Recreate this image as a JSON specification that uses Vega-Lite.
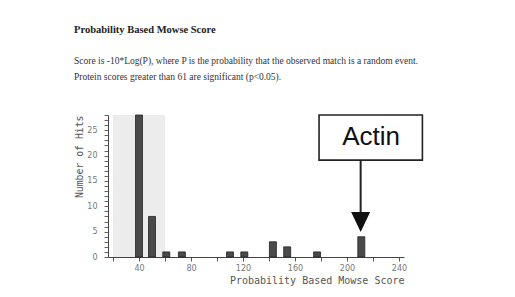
{
  "$schema": "https://vega.github.io/schema/vega-lite/v6.json",
  "autosize": "none",
  "width": 296,
  "height": 142,
  "padding": {"left": 108, "top": 115, "right": 111, "bottom": 40},
  "background": "white",
  "title": {
    "text": "Probability Based Mowse Score",
    "subtitle": ["Score is -10*Log(P), where P is the probability that the observed match is a random event.", "Protein scores greater than 61 are significant (p<0.05)."],
    "anchor": "start",
    "frame": "group",
    "dx": -34,
    "offset": 30,
    "font": "Liberation Serif",
    "fontSize": 10.5,
    "fontWeight": "bold",
    "color": "#222",
    "subtitleFont": "Liberation Serif",
    "subtitleFontSize": 9.5,
    "subtitleColor": "#333",
    "subtitleLineHeight": 16,
    "subtitlePadding": 20
  },
  "datasets": {
    "hits": [
      {"score": 40, "hits": 28},
      {"score": 50, "hits": 8},
      {"score": 61, "hits": 1},
      {"score": 73, "hits": 1},
      {"score": 110, "hits": 1},
      {"score": 121, "hits": 1},
      {"score": 143, "hits": 3},
      {"score": 154, "hits": 2},
      {"score": 177, "hits": 1},
      {"score": 211, "hits": 4}
    ],
    "shade": [{"from": 20, "to": 60, "low": 0, "high": 28}],
    "callout": [{"label": "Actin", "left": 178.5, "right": 258, "bottom": 19.1, "top": 28, "mid": 23.7, "textx": 218.5, "arrowx": 210.5, "shaftEnd": 8.5, "head": 6.9}]
  },
  "layer": [
    {
      "data": {"name": "shade"},
      "mark": {"type": "rect", "color": "#ececec"},
      "encoding": {
        "x": {"field": "from", "type": "quantitative", "scale": {"domain": [20, 240], "nice": false, "zero": false},
          "axis": {
            "values": [20, 40, 60, 80, 100, 120, 140, 160, 180, 200, 220, 240],
            "tickCount": 100,
            "format": "d",
            "labelExpr": "(datum.value / 40) == floor(datum.value / 40) ? datum.label : ''",
            "labelOverlap": false,
            "labelFlush": false,
            "labelBound": false,
            "title": "Probability Based Mowse Score",
            "titleAnchor": "end",
            "titleFont": "DejaVu Sans Mono",
            "titleFontSize": 10,
            "titleFontWeight": "normal",
            "titleColor": "#555",
            "titlePadding": 3,
            "labelFont": "DejaVu Sans",
            "labelFontSize": 8,
            "labelColor": "#777",
            "labelPadding": 3,
            "tickSize": 4,
            "tickColor": "#555",
            "domainColor": "#444",
            "grid": false
          }
        },
        "x2": {"field": "to"},
        "y": {"field": "low", "type": "quantitative", "scale": {"domain": [0, 28], "nice": false},
          "axis": {
            "values": [0, 1, 2, 3, 4, 5, 6, 7, 8, 9, 10, 11, 12, 13, 14, 15, 16, 17, 18, 19, 20, 21, 22, 23, 24, 25, 26, 27, 28],
            "tickCount": 100,
            "format": "d",
            "labelExpr": "(datum.value / 5) == floor(datum.value / 5) ? datum.label : ''",
            "labelOverlap": false,
            "labelFlush": false,
            "labelBound": false,
            "title": "Number of Hits",
            "titleAnchor": "end",
            "titleFont": "DejaVu Sans Mono",
            "titleFontSize": 9.8,
            "titleFontWeight": "normal",
            "titleColor": "#555",
            "titlePadding": 2,
            "labelFont": "DejaVu Sans",
            "labelFontSize": 8,
            "labelColor": "#777",
            "labelPadding": 7,
            "tickSize": 4,
            "tickColor": "#666",
            "domainColor": "#444",
            "grid": false
          }
        },
        "y2": {"field": "high"}
      }
    },
    {
      "data": {"name": "hits"},
      "mark": {"type": "bar", "size": 7, "fill": "#4a4a4a", "stroke": "#222", "strokeWidth": 0.8},
      "encoding": {
        "x": {"field": "score", "type": "quantitative"},
        "y": {"field": "hits", "type": "quantitative"}
      }
    },
    {
      "data": {"name": "callout"},
      "mark": {"type": "rect", "fill": "white", "stroke": "#222", "strokeWidth": 1.6, "clip": false},
      "encoding": {
        "x": {"field": "left", "type": "quantitative"},
        "x2": {"field": "right"},
        "y": {"field": "bottom", "type": "quantitative"},
        "y2": {"field": "top"}
      }
    },
    {
      "data": {"name": "callout"},
      "mark": {"type": "text", "font": "Liberation Sans", "fontSize": 26, "color": "#111", "baseline": "middle", "align": "center"},
      "encoding": {
        "x": {"field": "textx", "type": "quantitative"},
        "y": {"field": "mid", "type": "quantitative"},
        "text": {"field": "label"}
      }
    },
    {
      "data": {"name": "callout"},
      "mark": {"type": "rule", "stroke": "#222", "strokeWidth": 2},
      "encoding": {
        "x": {"field": "arrowx", "type": "quantitative"},
        "y": {"field": "bottom", "type": "quantitative"},
        "y2": {"field": "shaftEnd"}
      }
    },
    {
      "data": {"name": "callout"},
      "mark": {"type": "point", "shape": "M-0.95,-1L0.95,-1L0,1Z", "size": 400, "filled": true, "color": "#111", "opacity": 1},
      "encoding": {
        "x": {"field": "arrowx", "type": "quantitative"},
        "y": {"field": "head", "type": "quantitative"}
      }
    }
  ],
  "config": {"view": {"stroke": null}}
}
